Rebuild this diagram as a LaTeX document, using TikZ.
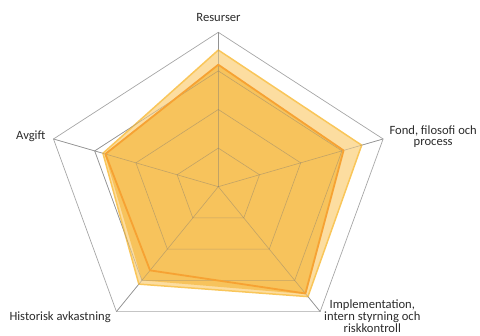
\documentclass[tikz,border=0pt]{standalone}
\usepackage{fontspec}
\setmainfont{Carlito}
\definecolor{gridgray}{HTML}{A6A6A6}
\definecolor{lightfill}{HTML}{FCDDA0}
\definecolor{lightedge}{HTML}{F9C65A}
\definecolor{goldfill}{HTML}{F7C35C}
\definecolor{orangeline}{HTML}{F6A233}
\definecolor{labeltext}{HTML}{2B2B2B}
\begin{document}
\begin{tikzpicture}[x=1pt,y=1pt,
  lbl/.style={font=\fontsize{12.6}{11.8}\selectfont, text=labeltext, inner sep=0pt, align=center},
  gridline/.style={draw=gridgray, line width=0.7pt},
  gridover/.style={draw=gridgray!70!black, line width=0.6pt, opacity=0.4},
  lightarea/.style={fill=lightfill, draw=lightedge, line width=1.5pt, line join=round},
  goldarea/.style={fill=goldfill},
  orangeedge/.style={draw=orangeline, line width=1.8pt, line join=round}]
\useasboundingbox (0,0) rectangle (480,336);
\begin{scope}[shift={(218.3,149.3)}, x=173.3pt, y=154.4pt]
  \coordinate (c) at (0,0);
  \foreach \a [count=\i] in {90,18,-54,-126,162} {
    \coordinate (v\i) at (\a:1);
    \coordinate (q\i) at (\a:0.75);
    \coordinate (h\i) at (\a:0.5);
    \coordinate (k\i) at (\a:0.25);
  }
  % series 1 (light)
  \foreach \a/\r [count=\i] in {90/0.885,18/0.87,-54/0.88,-126/0.78,162/0.70}
    \coordinate (s\i) at (\a:\r);
  % series 2 (gold)
  \foreach \a/\r [count=\i] in {90/0.79,18/0.76,-54/0.86,-126/0.75,162/0.69}
    \coordinate (t\i) at (\a:\r);
  % series 3 (orange line)
  \foreach \a/\r [count=\i] in {90/0.79,18/0.76,-54/0.855,-126/0.67,162/0.685}
    \coordinate (u\i) at (\a:\r);
\end{scope}
% grid
\foreach \p in {v,q,h,k}
  \draw[gridline] (\p1)--(\p2)--(\p3)--(\p4)--(\p5)--cycle;
\foreach \i in {1,...,5}
  \draw[gridline] (c)--(v\i);
% data
\draw[lightarea] (s1)--(s2)--(s3)--(s4)--(s5)--cycle;
\fill[goldarea] (t1)--(t2)--(t3)--(t4)--(t5)--cycle;
\foreach \p in {q,h,k}
  \draw[gridover] (\p1)--(\p2)--(\p3)--(\p4)--(\p5)--cycle;
\foreach \i in {1,...,5}
  \draw[gridover] (c)--(v\i);
\draw[orangeedge] (u1)--(u2)--(u3)--(u4)--(u5)--cycle;
% labels
\node[lbl, anchor=base] (resurser) at (218.5,314) {Resurser};
\node[lbl, anchor=base west] (avgift) at (16,196) {Avgift};
\node[lbl, anchor=base] (fond) at (433.2,190) {Fond, filosofi och\\process};
\node[lbl, anchor=base] (impl) at (372.3,3.8) {Implementation,\\intern styrning och\\riskkontroll};
\node[lbl, anchor=base west] (hist) at (9.3,15.3) {Historisk avkastning};
\end{tikzpicture}
\end{document}
